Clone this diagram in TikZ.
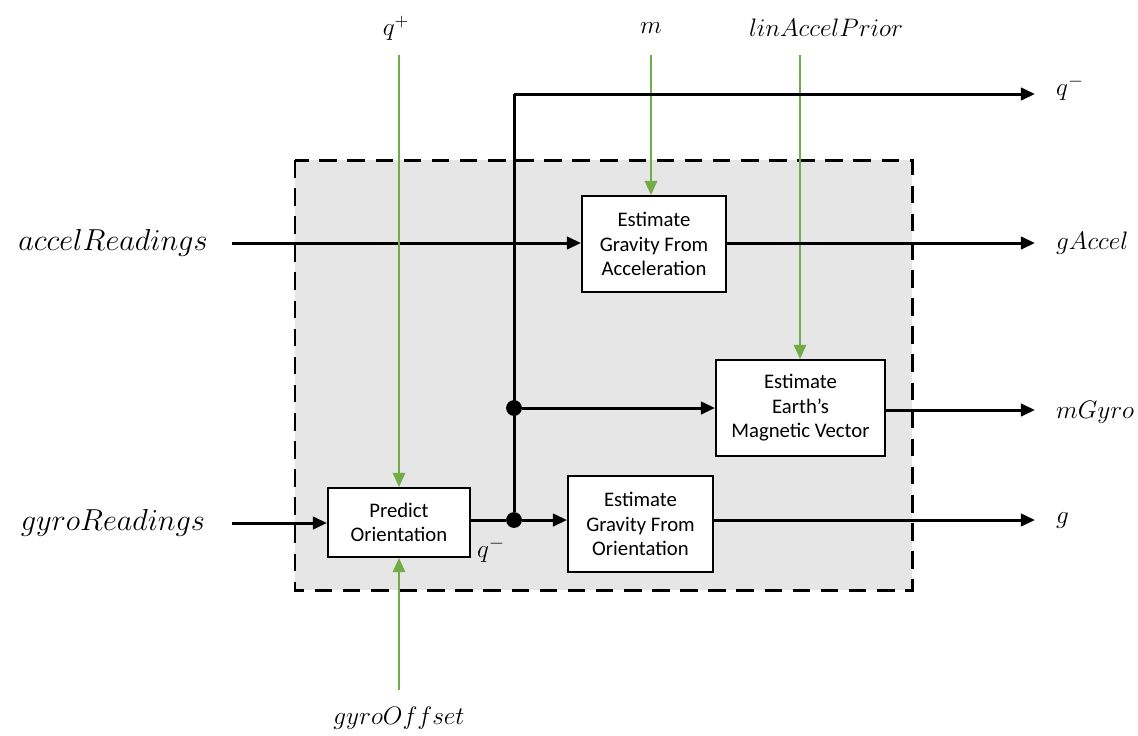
\documentclass[tikz,border=0pt]{standalone}
\usepackage{fontspec}
\newfontfamily\boxfont{Carlito}
\usetikzlibrary{arrows.meta}
\definecolor{sig}{HTML}{70AD47}
\definecolor{bggray}{HTML}{E6E6E6}
\tikzset{
  blk/.style={draw=black, line width=1.1pt, fill=white, align=center,
    font=\boxfont\fontsize{11.8}{14}\selectfont, inner sep=0pt},
  wire/.style={line width=1.7pt, black},
  arr/.style={wire, -{Triangle[length=8pt,width=7pt]}},
  garr/.style={line width=1.1pt, sig, -{Triangle[length=8pt,width=7pt]}},
  bigl/.style={font=\fontsize{17.6}{20}\selectfont},
  outl/.style={font=\fontsize{15}{17}\selectfont, anchor=west},
  topl/.style={font=\fontsize{14.5}{17}\selectfont},
  dot/.style={circle, fill=black, inner sep=0pt, minimum size=9pt},
}
\begin{document}
\begin{tikzpicture}[x=0.02cm,y=-0.02cm]
\useasboundingbox (0,0) rectangle (1138,735);
% dashed region
\draw[fill=bggray, line width=1.7pt, dash pattern=on 10pt off 6pt] (295,160) rectangle (912,590);

% blocks
\node[blk, minimum width=144*0.02cm, minimum height=96*0.02cm] (acc) at (654,244) {Estimate\\Gravity From\\Acceleration};
\node[blk, minimum width=169*0.02cm, minimum height=96*0.02cm] (mag) at (800.5,408) {Estimate\\Earth’s\\Magnetic Vector};
\node[blk, minimum width=142*0.02cm, minimum height=69*0.02cm] (pred) at (399,522.5) {Predict\\Orientation};
\node[blk, minimum width=145*0.02cm, minimum height=96*0.02cm] (gor) at (640.5,524) {Estimate\\Gravity From\\Orientation};

% junctions
\node[dot] (j2) at (514,520) {};
\node[dot] (j1) at (514,408) {};
\coordinate (top) at (514,94);

% inputs
\node[bigl] (accin) at (113,243) {$accelReadings$};
\node[bigl] (gyin) at (113,523) {$gyroReadings$};
\draw[arr] (232,243) -- (acc.west |- 0,243);
\draw[arr] (232,523) -- (pred.west |- 0,523);

% top labels
\node[topl] (qp) at (396,28) {$q^{+}$};
\node[topl] (mm) at (651,28) {$m$};
\node[topl] (lap) at (826,28) {$linAccelPrior$};
\node[font=\fontsize{15}{17}\selectfont] (goff) at (399,718) {$gyroOffset$};

\draw[garr] (399,55) -- (pred.north);
\draw[garr] (651,55) -- (acc.north -| 651,0);
\draw[garr] (800,55) -- (mag.north -| 800,0);
\draw[garr] (399,690) -- (pred.south);

% internal wires
\draw[wire] (pred.east |- j2) -- (j2);
\draw[arr] (j2) -- (gor.west |- j2);
\draw[arr] (j1) -- (mag.west |- j1);
\node[font=\fontsize{15}{17}\selectfont] (qm) at (491,550) {$q^{-}$};

% outputs
\node[outl] (qout) at (1050,88) {$q^{-}$};
\node[outl] (gacc) at (1050,243) {$gAccel$};
\node[outl] (mgy) at (1050,412) {$mGyro$};
\node[outl] (gg) at (1050,520) {$g$};
\coordinate (qe) at (1035,94);
\draw[wire] (j2) -- (top);
\draw[arr] (top) -- (qe);
\draw[arr] (acc.east |- 0,243) -- (1035,243);
\draw[arr] (mag.east |- 0,410) -- (1035,410);
\draw[arr] (gor.east |- 0,520) -- (1035,520);
\end{tikzpicture}
\end{document}
